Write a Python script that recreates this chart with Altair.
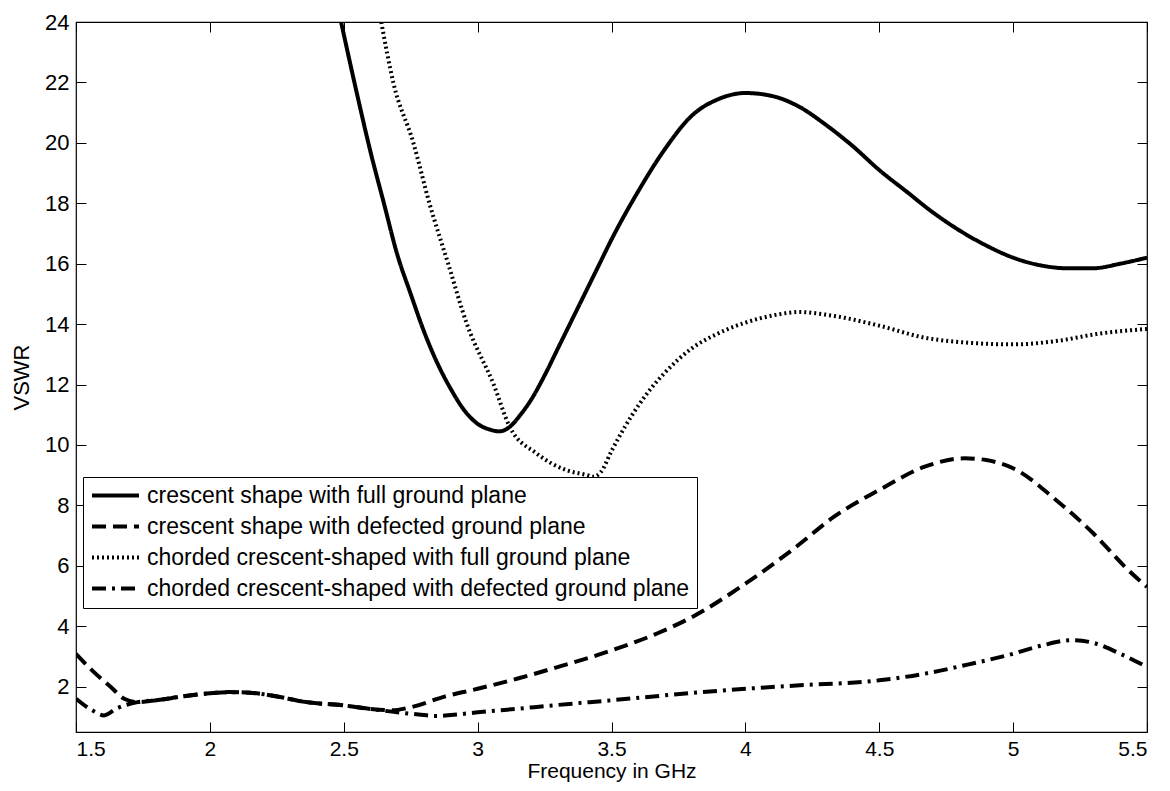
import altair as alt
import pandas as pd

names = [
    "crescent shape with full ground plane",
    "crescent shape with defected ground plane",
    "chorded crescent-shaped with full ground plane",
    "chorded crescent-shaped with defected ground plane",
]

# crescent shape, full ground plane (solid)
f_full = [2.49, 2.55, 2.60, 2.65, 2.70, 2.75, 2.80, 2.85, 2.90, 2.95, 3.00, 3.05, 3.08, 3.12, 3.16,
          3.20, 3.25, 3.30, 3.35, 3.40, 3.45, 3.50, 3.60, 3.70, 3.80, 3.90, 4.00, 4.10, 4.20, 4.30,
          4.40, 4.50, 4.60, 4.70, 4.80, 4.90, 5.00, 5.10, 5.20, 5.30, 5.40, 5.50]
v_full = [24.0, 21.6, 19.7, 18.0, 16.3, 15.0, 13.75, 12.7, 11.85, 11.15, 10.7, 10.5, 10.45, 10.6, 11.0,
          11.5, 12.3, 13.2, 14.1, 15.0, 15.9, 16.8, 18.4, 19.8, 20.9, 21.45, 21.65, 21.55, 21.2, 20.6,
          19.9, 19.1, 18.4, 17.7, 17.1, 16.6, 16.2, 15.95, 15.85, 15.85, 16.0, 16.2]

# crescent shape, defected ground plane (dashed)
f_dgs = [1.50, 1.56, 1.63, 1.68, 1.73, 1.80, 1.90, 2.00, 2.07, 2.15, 2.23, 2.36, 2.50, 2.60, 2.68,
         2.75, 2.88, 3.00, 3.15, 3.28, 3.50, 3.67, 3.80, 4.00, 4.19, 4.33, 4.50, 4.67, 4.82, 4.90,
         5.00, 5.16, 5.30, 5.43, 5.50]
v_dgs = [3.09, 2.54, 1.99, 1.60, 1.49, 1.55, 1.68, 1.78, 1.82, 1.80, 1.71, 1.49, 1.38, 1.26, 1.22,
         1.32, 1.68, 1.93, 2.27, 2.60, 3.20, 3.76, 4.30, 5.41, 6.63, 7.62, 8.51, 9.28, 9.56, 9.50,
         9.23, 8.18, 7.07, 5.86, 5.30]

# chorded crescent, full ground plane (dotted)
f_chf = [2.64, 2.685, 2.76, 2.82, 2.89, 2.96, 3.06, 3.12, 3.22, 3.33, 3.41, 3.43, 3.46, 3.50, 3.55,
         3.60, 3.65, 3.70, 3.80, 3.90, 4.00, 4.11, 4.20, 4.31, 4.50, 4.67, 4.81, 5.00, 5.17, 5.31, 5.50]
v_chf = [24.0, 22.0, 20.0, 18.0, 16.0, 14.0, 12.0, 10.6, 9.72, 9.17, 9.0, 8.95, 9.1, 9.8, 10.6,
         11.3, 11.9, 12.4, 13.2, 13.7, 14.05, 14.3, 14.4, 14.3, 13.95, 13.55, 13.4, 13.33, 13.45, 13.67, 13.84]

# chorded crescent, defected ground plane (dash-dot)
f_chd = [1.50, 1.56, 1.605, 1.65, 1.73, 1.80, 1.90, 2.00, 2.07, 2.15, 2.23, 2.36, 2.50, 2.62, 2.70,
         2.78, 2.84, 2.90, 3.00, 3.15, 3.28, 3.50, 3.80, 4.00, 4.19, 4.50, 4.67, 4.82, 5.00, 5.11,
         5.22, 5.30, 5.40, 5.50]
v_chd = [1.60, 1.22, 1.05, 1.27, 1.49, 1.55, 1.68, 1.78, 1.82, 1.80, 1.71, 1.49, 1.38, 1.24, 1.15,
         1.08, 1.03, 1.06, 1.15, 1.27, 1.38, 1.55, 1.79, 1.93, 2.04, 2.21, 2.43, 2.71, 3.09, 3.37,
         3.54, 3.45, 3.09, 2.65]

x_ticks = [1.5, 2, 2.5, 3, 3.5, 4, 4.5, 5, 5.5]
y_ticks = [2, 4, 6, 8, 10, 12, 14, 16, 18, 20, 22, 24]

rows = []
for name, fs, vs in zip(names, [f_full, f_dgs, f_chf, f_chd], [v_full, v_dgs, v_chf, v_chd]):
    for f, v in zip(fs, vs):
        rows.append({"series": name, "f": f, "v": v})
df = pd.DataFrame(rows)

FONT = "Liberation Sans"
xscale = alt.Scale(domain=[1.5, 5.5], nice=False, zero=False)
yscale = alt.Scale(domain=[0.5, 24], nice=False, zero=False)

legend_props = dict(orient="none", legendX=7, legendY=455, title=None,
                    symbolType="stroke", symbolSize=2209,
                    symbolStrokeColor="black", labelFontSize=23,
                    labelFont=FONT, labelColor="black", labelLimit=0,
                    strokeColor="black", fillColor="white",
                    padding=7, rowPadding=7, labelOffset=6, clipHeight=23)

lines = alt.Chart(df).mark_line(interpolate="monotone", clip=True, color="black").encode(
    x=alt.X("f:Q", scale=xscale,
            axis=alt.Axis(values=x_ticks, format="~g", title="Frequency in GHz", orient="bottom",
                          offset=-10, tickSize=10, domain=False, grid=False, labelPadding=6,
                          labelFontSize=21, titleFontSize=21, titlePadding=1)),
    y=alt.Y("v:Q", scale=yscale,
            axis=alt.Axis(values=y_ticks, title="VSWR", orient="left",
                          offset=-10, tickSize=10, domain=False, grid=False, labelPadding=7,
                          titlePadding=11)),
    strokeDash=alt.StrokeDash("series:N",
                              scale=alt.Scale(domain=names, range=[[1, 0], [14, 7], [2, 3], [14, 6, 3, 6]]),
                              legend=alt.Legend(**legend_props)),
    strokeWidth=alt.StrokeWidth("series:N",
                                scale=alt.Scale(domain=names, range=[4, 4, 2, 4]),
                                legend=alt.Legend(**legend_props)),
)

ticks = alt.Chart(df).mark_point(opacity=0).encode(
    x=alt.X("f:Q", scale=xscale,
            axis=alt.Axis(values=x_ticks, orient="top", offset=-10, tickSize=10, domain=False,
                          grid=False, labels=False, title=None)),
    y=alt.Y("v:Q", scale=yscale,
            axis=alt.Axis(values=y_ticks, orient="right", offset=-10, tickSize=10, domain=False,
                          grid=False, labels=False, title=None)),
)

chart = alt.layer(lines, ticks).resolve_axis(x="independent", y="independent").properties(
    width=1071, height=710,
    autosize=alt.AutoSizeParams(type="none"),
    padding={"left": 68, "top": 14, "right": 15, "bottom": 50},
    background="white",
).configure_view(stroke="black", strokeWidth=1.2).configure_axis(
    labelFont=FONT, labelFontSize=22, labelColor="black",
    titleFont=FONT, titleFontSize=22, titleColor="black", titleFontWeight="normal",
    tickColor="black", tickWidth=1,
)

chart.save("out.html", embed_options={"renderer": "svg", "actions": False})
